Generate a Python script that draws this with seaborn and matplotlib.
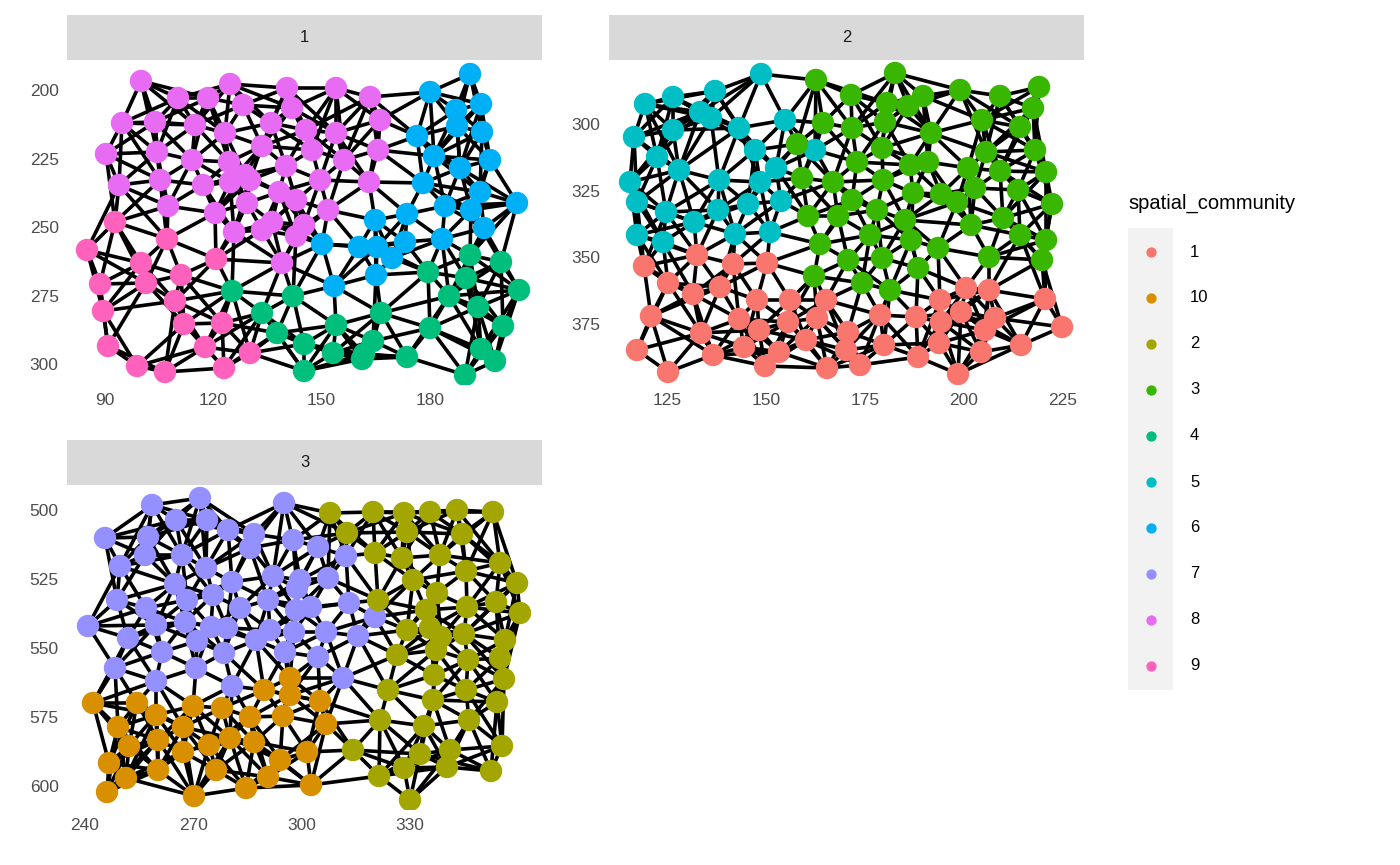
import numpy as np
import pandas as pd
import matplotlib
matplotlib.use("Agg")
import matplotlib.pyplot as plt
import matplotlib.tri as mtri
import seaborn as sns

plt.rcParams["font.family"] = ["Liberation Sans", "DejaVu Sans"]

# community points, as (x, y) pairs in picture units,
# with each panel's axis calibration below (two known ticks per axis)
c8 = [(141,81),(178,98),(208,98),(230,84),(243,105),(287,88),(292,108),(336,88),(370,97),(122,123),(155,122),(195,125),(225,133),(271,123),(306,130),(336,133),(380,120),(106,154),(157,152),(192,160),(229,162),(262,146),(286,166),(312,150),(344,160),(378,150),(119,185),(160,180),(203,185),(230,182),(245,175),(250,180),(279,192),(296,200),(320,180),(369,182),(168,206),(215,213),(247,203),(272,222),(304,225),(328,210),(234,232),(262,230),(296,236),(282,263)]
c9 = [(115,222),(87,250),(100,284),(103,311),(108,346),(137,366),(165,372),(141,263),(146,283),(167,239),(181,275),(175,301),(184,324),(205,347),(222,323),(216,259),(224,368),(250,353)]
c4 = [(232,291),(262,313),(277,333),(293,296),(304,371),(304,344),(336,325),(333,353),(362,359),(373,341),(381,313),(407,357),(428,272),(430,328),(449,296),(466,278),(470,255),(478,307),(501,262),(519,290),(503,326),(481,349),(495,361),(465,375),(364,354)]
c6 = [(470,74),(430,92),(481,104),(456,110),(457,126),(417,136),(482,132),(434,156),(460,168),(490,160),(423,183),(480,192),(445,206),(471,210),(517,203),(407,214),(375,220),(484,228),(442,239),(405,242),(377,247),(322,244),(359,247),(392,258),(376,275),(334,286)]
c5 = [(645,104),(673,97),(700,112),(715,91),(739,128),(761,74),(785,120),(634,137),(673,130),(657,157),(679,170),(755,150),(776,168),(815,150),(630,182),(637,202),(666,212),(694,222),(719,180),(718,210),(748,204),(760,182),(781,201),(637,235),(663,242),(735,234),(770,232),(711,118)]
c3 = [(816,80),(851,95),(895,73),(887,103),(923,96),(960,90),(1000,96),(1039,87),(1033,108),(823,123),(852,128),(885,122),(908,106),(982,120),(1020,127),(931,133),(797,144),(857,162),(882,148),(910,165),(928,162),(986,152),(1035,150),(802,178),(833,182),(883,180),(968,168),(1000,171),(1046,172),(808,216),(838,216),(852,200),(877,210),(913,193),(941,194),(975,188),(1018,190),(957,202),(1052,204),(870,235),(820,244),(911,240),(938,248),(971,225),(1003,218),(1020,235),(1046,240),(848,260),(882,258),(918,268),(989,257),(1042,260),(814,276),(862,283),(890,290),(905,220)]
c1 = [(644,266),(668,283),(697,255),(693,294),(720,287),(733,264),(767,263),(651,316),(701,333),(739,319),(757,300),(759,330),(790,300),(788,322),(826,300),(806,340),(817,318),(848,332),(846,350),(880,315),(860,365),(884,345),(916,317),(940,300),(941,322),(966,288),(961,312),(989,290),(995,318),(1045,299),(1062,327),(985,330),(981,352),(1021,345),(939,343),(918,357),(958,374),(827,368),(765,366),(713,355),(668,372),(637,350),(744,347),(779,352)]
c7 = [(152,505),(200,498),(284,503),(105,538),(148,537),(176,520),(207,520),(228,530),(254,534),(293,540),(318,547),(346,556),(120,566),(145,555),(182,555),(206,568),(232,582),(273,576),(300,580),(328,578),(117,600),(146,608),(175,584),(187,600),(213,595),(240,608),(268,600),(296,610),(311,607),(349,603),(375,617),(88,626),(128,638),(156,625),(185,622),(211,627),(227,628),(270,630),(294,632),(326,632),(358,636),(115,668),(162,652),(197,641),(224,653),(256,640),(285,652),(318,657),(156,681),(196,668),(232,686),(343,678),(250,548),(297,588)]
c2 = [(330,513),(347,533),(373,512),(404,513),(430,512),(457,510),(493,512),(375,553),(402,558),(440,555),(466,571),(500,563),(407,532),(462,534),(413,580),(437,593),(517,583),(426,610),(467,607),(496,602),(520,613),(430,628),(441,637),(464,634),(407,630),(436,650),(468,660),(505,640),(500,658),(504,679),(397,655),(434,675),(466,690),(388,690),(433,700),(497,702),(380,720),(424,726),(469,720),(353,750),(420,754),(450,750),(502,746),(379,776),(404,768),(410,800),(447,767),(491,771),(378,600)]
c10 = [(93,703),(137,703),(193,706),(222,708),(290,678),(290,695),(264,690),(320,701),(118,727),(156,715),(183,727),(250,717),(283,716),(326,724),(129,746),(158,740),(183,752),(209,745),(254,742),(230,738),(307,752),(109,763),(126,778),(158,770),(216,770),(268,777),(280,760),(107,792),(194,796),(246,788),(311,785)]

panels = {
    "1": {"groups": {"8": c8, "9": c9, "4": c4, "6": c6},
          "cal": ((105, 90, 430, 180), (90, 200, 364, 300)),
          "xticks": [90, 120, 150, 180], "yticks": [200, 225, 250, 275, 300]},
    "2": {"groups": {"5": c5, "3": c3, "1": c1},
          "cal": ((667, 125, 1063, 225), (124, 300, 324, 375)),
          "xticks": [125, 150, 175, 200, 225], "yticks": [300, 325, 350, 375]},
    "3": {"groups": {"7": c7, "2": c2, "10": c10},
          "cal": ((85, 240, 410, 330), (510, 500, 786, 600)),
          "xticks": [240, 270, 300, 330], "yticks": [500, 525, 550, 575, 600]},
}

levels = ["1", "10", "2", "3", "4", "5", "6", "7", "8", "9"]
colors = ["#F8766D", "#D89000", "#A3A500", "#39B600", "#00BF7D",
          "#00BFC4", "#00B0F6", "#9590FF", "#E76BF3", "#FF62BC"]
palette = dict(zip(levels, colors))


def conv(p, cal):
    (p0, v0, p1, v1) = cal
    return v0 + (p - p0) * (v1 - v0) / (p1 - p0)


W, H = 1400, 865
fig = plt.figure(figsize=(14, 8.65), dpi=100)
boxes = {"1": (67, 60, 542, 385), "2": (609, 60, 1084, 385), "3": (67, 485, 542, 810)}

for name, info in panels.items():
    cx, cy = info["cal"]
    rows = []
    for g, pts in info["groups"].items():
        for px, py in pts:
            rows.append((conv(px, cx), conv(py, cy), g))
    df = pd.DataFrame(rows, columns=["x", "y", "spatial_community"])

    x0, y0, x1, y1 = boxes[name]
    ax = fig.add_axes([x0 / W, 1 - y1 / H, (x1 - x0) / W, (y1 - y0) / H])
    # network edges: Delaunay links plus nearest-neighbour links, long ones dropped
    xs, ys = df.x.values, df.y.values
    sx_ = (cx[2] - cx[0]) / (cx[3] - cx[1])
    sy_ = (cy[2] - cy[0]) / (cy[3] - cy[1])
    P = np.column_stack([xs * sx_, ys * sy_])
    tri = mtri.Triangulation(xs, ys)
    pairs = set(tuple(sorted(e)) for e in tri.edges)
    D = np.hypot(P[:, None, 0] - P[None, :, 0], P[:, None, 1] - P[None, :, 1])
    for i in range(len(P)):
        for j in np.argsort(D[i])[1:9]:
            pairs.add(tuple(sorted((i, int(j)))))
    for a, b in pairs:
        if D[a, b] < 75:
            ax.plot([xs[a], xs[b]], [ys[a], ys[b]], color="black", lw=2.6, zorder=1,
                    solid_capstyle="round")
    sns.scatterplot(data=df, x="x", y="y", hue="spatial_community", palette=palette,
                    s=260, linewidth=0, ax=ax, legend=False, zorder=3)

    ax.set_xlim(conv(x0, cx), conv(x1, cx))
    ax.set_ylim(conv(y1, cy), conv(y0, cy))
    ax.set_xticks(info["xticks"])
    ax.set_yticks(info["yticks"])
    ax.set_xlabel("")
    ax.set_ylabel("")
    for s in ax.spines.values():
        s.set_visible(False)
    ax.tick_params(length=0, labelsize=12.5, labelcolor="#4D4D4D", pad=6)

    # strip header
    sx = fig.add_axes([x0 / W, 1 - y0 / H, (x1 - x0) / W, 45 / H])
    sx.set_facecolor("#D9D9D9")
    sx.set_xticks([])
    sx.set_yticks([])
    for s in sx.spines.values():
        s.set_visible(False)
    sx.text(0.5, 0.5, name, ha="center", va="center", fontsize=12, color="#1A1A1A")

# legend
fig.text(1128 / W, 1 - 203 / H, "spatial_community", fontsize=14.5, va="center", ha="left")
lx = fig.add_axes([1128 / W, 1 - 690 / H, 45 / W, 462 / H])
lx.set_facecolor("#F2F2F2")
lx.set_xlim(0, 1)
lx.set_ylim(690, 228)
lx.set_xticks([])
lx.set_yticks([])
for s in lx.spines.values():
    s.set_visible(False)
for i, lev in enumerate(levels):
    yy = 252 + i * 46
    lx.scatter([0.5], [yy], s=55, color=palette[lev], linewidth=0)
    fig.text(1190 / W, 1 - yy / H, lev, fontsize=12, va="center", ha="left")

fig.savefig("out.png", dpi=100)
